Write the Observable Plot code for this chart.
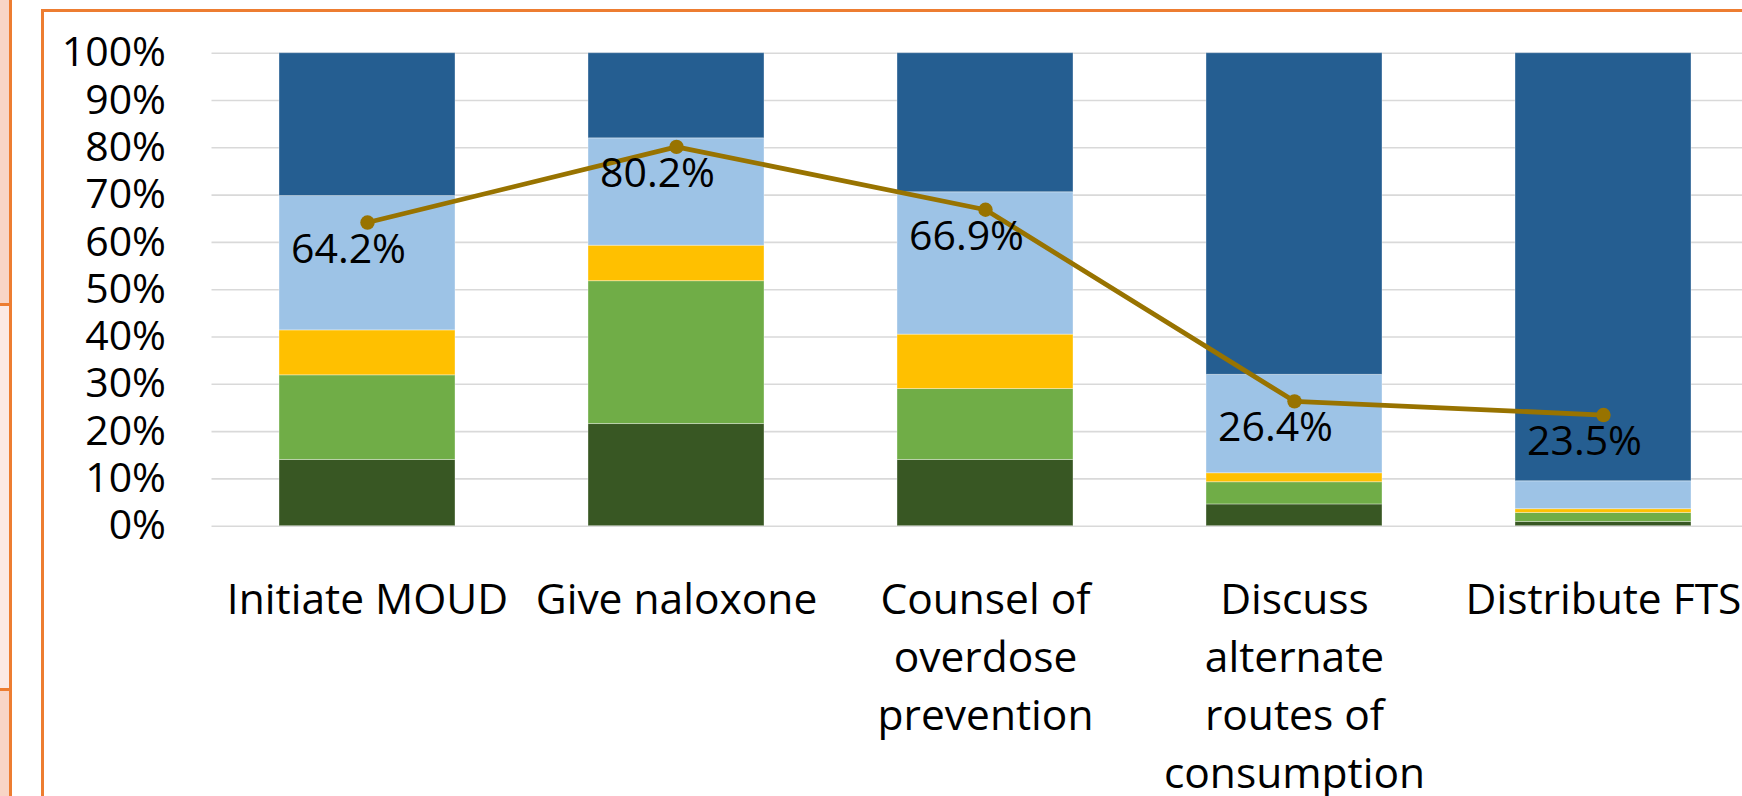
<!DOCTYPE html>
<html>
<head>
<meta charset="utf-8">
<script src="https://cdn.jsdelivr.net/npm/d3@7"></script>
<script src="https://cdn.jsdelivr.net/npm/@observablehq/plot@0.6"></script>
<style>
  html, body { margin: 0; padding: 0; background: #fff; }
  #stage { position: relative; width: 1742px; height: 796px; overflow: hidden; background: #fff; }
  .strip { position: absolute; left: 0; width: 10px; }
  #chart { position: absolute; left: 0; top: 0; }
</style>
</head>
<body>
<div id="stage">
  <div class="strip" style="top:0;height:304px;background:#F8D5C6"></div>
  <div class="strip" style="top:304px;height:385px;background:#FCEAE5"></div>
  <div class="strip" style="top:689px;height:107px;background:#F8D5C6"></div>
  <div style="position:absolute;left:9px;top:0;width:3px;height:796px;background:#ED7D31"></div>
  <div style="position:absolute;left:0;top:302.5px;width:11px;height:3px;background:#ED7D31"></div>
  <div style="position:absolute;left:0;top:687.5px;width:11px;height:3px;background:#ED7D31"></div>
  <div style="position:absolute;left:41px;top:9px;width:2000px;height:2000px;border:3px solid #ED7D31;box-sizing:border-box"></div>
  <div id="chart"></div>
</div>
<script>
// ---- data (percent) ----
const categories = ["Initiate MOUD", "Give naloxone", "Counsel of overdose prevention", "Discuss alternate routes of consumption", "Distribute FTS"];
const categoryLabels = ["Initiate MOUD", "Give naloxone", "Counsel of\noverdose\nprevention", "Discuss\nalternate\nroutes of\nconsumption", "Distribute FTS"];
const seriesNames = ["s1", "s2", "s3", "s4", "s5"];
const s1 = [14.0, 21.6, 14.0, 4.6, 0.9];
const s2 = [17.9, 30.2, 15.0, 4.7, 1.9];
const s3 = [9.5, 7.5, 11.5, 1.9, 0.8];
const s4 = [28.4, 22.7, 30.1, 20.8, 5.9];
const s5 = [30.2, 18.0, 29.4, 68.0, 90.5];
const lineValues = [64.2, 80.2, 66.9, 26.4, 23.5];
const yTicks = [0, 10, 20, 30, 40, 50, 60, 70, 80, 90, 100];
const seriesColors = ["#385723", "#70AD47", "#FFC000", "#9DC3E6", "#255E91"];

const seriesValues = [s1, s2, s3, s4, s5];
const stacked = [];
seriesNames.forEach((s, si) => categories.forEach((c, ci) => stacked.push({cat: c, series: s, value: seriesValues[si][ci]})));
const points = categories.map((c, i) => ({cat: c, value: lineValues[i]}));
const labelRows = categories.map((c, i) => ({cat: c, label: categoryLabels[i]}));

const font = "'Open Sans', 'Noto Sans', sans-serif";

const chart = Plot.plot({
  width: 1800,
  height: 796,
  marginLeft: 211.5,
  marginRight: 40.5,
  marginTop: 52.7,
  marginBottom: 270.3,
  style: {fontFamily: font, fontSize: "41px", color: "#000", background: "transparent", maxWidth: "none", overflow: "visible"},
  x: {domain: categories, paddingInner: 0.4293, paddingOuter: 0.2147, axis: null},
  y: {domain: [0, 100], axis: null},
  color: {domain: seriesNames, range: seriesColors},
  marks: [
    Plot.ruleY(yTicks, {stroke: "#D9D9D9", strokeWidth: 1.6}),
    Plot.axisY({ticks: yTicks, label: null, tickSize: 0, tickPadding: 46, tickFormat: d => d + "%", fontSize: 41, fill: "#000"}),
    Plot.barY(stacked, {x: "cat", y: "value", fill: "series", order: seriesNames, stroke: "#ffffff", strokeOpacity: 0.35, strokeWidth: 1}),
    Plot.line(points, {x: "cat", y: "value", stroke: "#987300", strokeWidth: 4.8}),
    Plot.dot(points, {x: "cat", y: "value", r: 7.2, fill: "#987300"}),
    Plot.text(points, {x: "cat", y: "value", text: d => d.value.toFixed(1) + "%", lineAnchor: "top", dx: -19, dy: 11, fontSize: 41, fill: "#000"}),
    Plot.text(labelRows, {x: "cat", frameAnchor: "bottom", text: "label", lineAnchor: "top", dy: 46, fontSize: 42.5, lineHeight: 1.37, fill: "#000"})
  ]
});
document.getElementById("chart").appendChild(chart);
</script>
</body>
</html>
